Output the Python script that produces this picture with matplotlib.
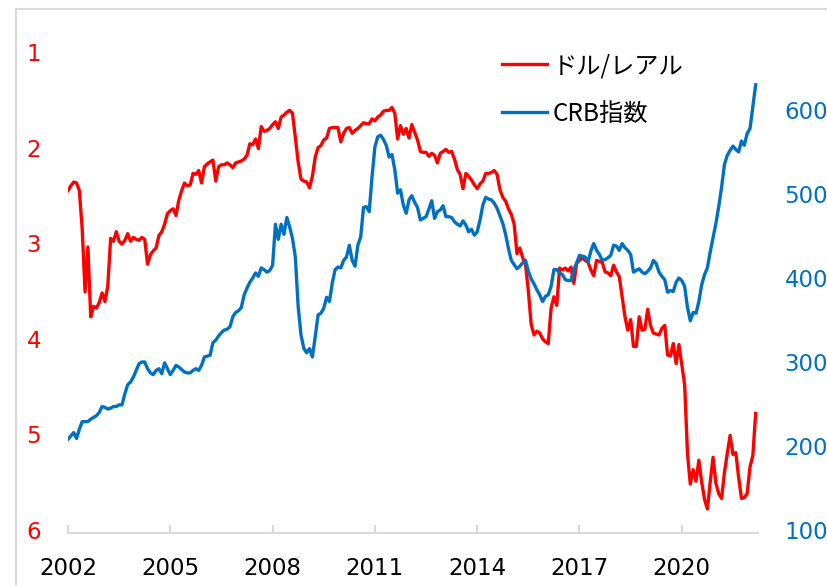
import matplotlib
matplotlib.use("Agg")
import matplotlib.pyplot as plt
import matplotlib.patches as patches
import numpy as np

# monthly data, Jan 2002 - Mar 2022
brl = [
    2.45, 2.40, 2.36, 2.37, 2.45, 2.85, 3.51, 3.04, 3.77, 3.66, 3.68, 3.62,  # 2002
    3.52, 3.61, 3.45, 2.95, 2.98, 2.88, 2.98, 3.01, 2.97, 2.90, 2.98, 2.94,  # 2003
    2.96, 2.97, 2.94, 2.96, 3.22, 3.12, 3.08, 3.05, 2.92, 2.88, 2.80, 2.69,  # 2004
    2.66, 2.64, 2.71, 2.55, 2.45, 2.37, 2.40, 2.39, 2.27, 2.28, 2.24, 2.37,  # 2005
    2.20, 2.17, 2.15, 2.13, 2.35, 2.20, 2.18, 2.18, 2.16, 2.18, 2.21, 2.16,  # 2006
    2.15, 2.14, 2.12, 2.08, 1.96, 1.97, 1.91, 2.01, 1.78, 1.83, 1.82, 1.80,  # 2007
    1.76, 1.73, 1.80, 1.68, 1.66, 1.63, 1.61, 1.64, 1.90, 2.15, 2.33, 2.35,  # 2008
    2.36, 2.42, 2.30, 2.10, 2.00, 1.98, 1.92, 1.90, 1.80, 1.79, 1.79, 1.79,  # 2009
    1.94, 1.85, 1.80, 1.79, 1.85, 1.82, 1.80, 1.77, 1.74, 1.75, 1.75, 1.70,  # 2010
    1.72, 1.68, 1.66, 1.62, 1.61, 1.61, 1.58, 1.64, 1.91, 1.77, 1.86, 1.80,  # 2011
    1.90, 1.76, 1.84, 1.92, 2.04, 2.05, 2.05, 2.09, 2.06, 2.08, 2.16, 2.06,  # 2012
    2.04, 2.02, 2.05, 2.04, 2.12, 2.23, 2.28, 2.43, 2.27, 2.30, 2.34, 2.39,  # 2013
    2.43, 2.38, 2.35, 2.27, 2.27, 2.26, 2.24, 2.28, 2.44, 2.52, 2.56, 2.64,  # 2014
    2.70, 2.80, 3.11, 3.05, 3.15, 3.22, 3.50, 3.85, 3.96, 3.92, 3.94, 4.00,  # 2015
    4.03, 4.05, 3.68, 3.56, 3.65, 3.26, 3.28, 3.26, 3.29, 3.25, 3.42, 3.21,  # 2016
    3.18, 3.15, 3.18, 3.20, 3.28, 3.34, 3.18, 3.19, 3.20, 3.30, 3.31, 3.34,  # 2017
    3.23, 3.30, 3.35, 3.56, 3.77, 3.91, 3.80, 4.08, 4.08, 3.77, 3.91, 3.90,  # 2018
    3.69, 3.86, 3.94, 3.95, 3.96, 3.89, 3.86, 4.17, 4.18, 4.05, 4.26, 4.06,  # 2019
    4.27, 4.48, 5.20, 5.52, 5.37, 5.49, 5.27, 5.50, 5.68, 5.78, 5.50, 5.24,  # 2020
    5.51, 5.62, 5.67, 5.40, 5.20, 5.01, 5.21, 5.19, 5.45, 5.67, 5.66, 5.62,  # 2021
    5.34, 5.22, 4.78,                                                        # 2022
]
crb = [
    208, 212, 216, 209, 220, 229, 229, 229, 232, 234, 236, 240,  # 2002
    247, 246, 244, 245, 247, 247, 249, 249, 262, 273, 276, 282,  # 2003
    290, 298, 300, 300, 292, 287, 285, 290, 292, 286, 299, 292,  # 2004
    285, 290, 296, 294, 291, 288, 287, 287, 290, 292, 290, 296,  # 2005
    306, 307, 308, 323, 326, 331, 335, 338, 339, 342, 354, 359,  # 2006
    361, 365, 380, 388, 395, 400, 406, 402, 412, 410, 407, 409,  # 2007
    415, 464, 446, 464, 452, 472, 461, 447, 425, 366, 332, 316,  # 2008
    311, 316, 306, 330, 356, 358, 364, 377, 372, 394, 410, 413,  # 2009
    412, 421, 425, 439, 421, 414, 439, 449, 484, 485, 479, 521,  # 2010
    556, 568, 570, 565, 558, 544, 547, 529, 501, 505, 487, 477,  # 2011
    493, 498, 490, 484, 469, 471, 473, 482, 492, 471, 479, 481,  # 2012
    486, 473, 473, 472, 467, 464, 462, 468, 463, 455, 458, 451,  # 2013
    455, 469, 487, 496, 494, 493, 489, 483, 474, 465, 452, 435,  # 2014
    421, 416, 411, 414, 418, 421, 408, 399, 393, 386, 380, 372,  # 2015
    378, 380, 390, 410, 410, 406, 404, 398, 397, 397, 410, 418,  # 2016
    427, 426, 425, 419, 432, 441, 433, 428, 421, 422, 424, 427,  # 2017
    439, 438, 433, 441, 436, 433, 428, 407, 409, 411, 407, 405,  # 2018
    408, 412, 421, 417, 407, 402, 398, 383, 385, 384, 395, 400,  # 2019
    397, 390, 365, 349, 359, 358, 372, 392, 404, 412, 431, 448,  # 2020
    465, 485, 508, 535, 546, 552, 557, 553, 550, 563, 558, 572,  # 2021
    578, 604, 630,                                               # 2022
]
years = [2002, 2005, 2008, 2011, 2014, 2017, 2020]
labels = ["ドル/レアル", "CRB指数"]

t = 2002 + np.arange(len(brl)) / 12.0

red = "#ff0000"
blue = "#0070c0"
grey = "#d9d9d9"

fig = plt.figure(figsize=(8.27, 5.86), dpi=100)
W, H = 827, 586
ax = fig.add_axes([68 / W, (H - 533) / H, 690 / W, 481 / H])
ax2 = ax.twinx()

l1, = ax.plot(t, brl, color=red, lw=2.4, solid_joinstyle="round")
l2, = ax2.plot(t, crb, color=blue, lw=2.4, solid_joinstyle="round")

ax.set_xlim(2002, 2002 + 690 / 34.1)
ax.set_ylim(6 + 3 / 95.6, 1)
ax2.set_ylim(100 - 3 / 0.84, 100 + 478 / 0.84)

ax.set_xticks(years)
ax.set_xticklabels([str(y) for y in years])
ax.set_yticks([1, 2, 3, 4, 5, 6])
ax2.set_yticks([100, 200, 300, 400, 500, 600])

for a in (ax, ax2):
    for s in ("top", "left", "right"):
        a.spines[s].set_visible(False)
ax2.spines["bottom"].set_visible(False)
ax.spines["bottom"].set_color(grey)
ax.spines["bottom"].set_linewidth(1.5)

ax.tick_params(axis="x", direction="in", length=6, width=1.5, color=grey,
               labelsize=16.5, pad=17, labelcolor="black")
ax.tick_params(axis="y", length=0, labelsize=16.5, pad=19.5, labelcolor=red)
ax2.tick_params(axis="y", length=0, labelsize=16.5, pad=19, labelcolor=blue)

leg = ax2.legend([l1, l2], labels, loc="upper left",
                 bbox_to_anchor=(502 / W, 1 - 53 / H), bbox_transform=fig.transFigure,
                 frameon=False, borderpad=0, borderaxespad=0,
                 handlelength=1.85, handletextpad=0.25, labelspacing=0.9,
                 prop={"family": ["Noto Sans CJK JP", "DejaVu Sans"], "size": 17.5})

# outer frame
fig.add_artist(patches.Rectangle((16 / W, -0.1), 1.2, 1.1 - 9 / H,
                                 transform=fig.transFigure, fill=False,
                                 edgecolor=grey, lw=1.5, clip_on=False))

fig.savefig("out.png", dpi=100)
